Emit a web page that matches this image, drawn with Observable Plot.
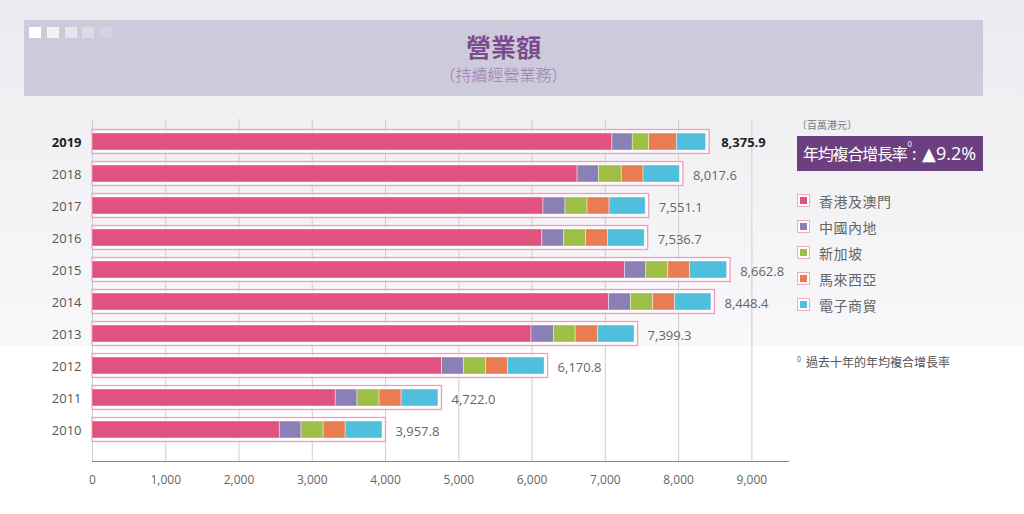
<!DOCTYPE html>
<html><head><meta charset="utf-8">
<script src="https://cdn.jsdelivr.net/npm/d3@7"></script>
<script src="https://cdn.jsdelivr.net/npm/@observablehq/plot@0.6"></script>
<style>
html,body{margin:0;padding:0;}
body{width:1024px;height:514px;overflow:hidden;position:relative;font-family:"Open Sans","Noto Sans CJK TC",sans-serif;
background:linear-gradient(to bottom,#ebeaf0 0px,#f0f0f3 110px,#f8f8fa 345px,#ffffff 346px);}
#header{position:absolute;left:24px;top:20px;width:959px;height:76px;background:#cdcadc;}
.sq{position:absolute;top:7px;width:12px;height:11px;background:#fff;}
#title{position:absolute;left:0;width:100%;top:9px;text-align:center;font-family:"Noto Sans CJK TC",sans-serif;font-weight:700;font-size:25px;color:#7a4a8d;line-height:34px;}
#subtitle{position:absolute;left:0;width:100%;top:43px;text-align:center;font-family:"Noto Sans CJK TC",sans-serif;font-weight:300;font-size:16px;color:#9a7cab;line-height:22px;}
#chart{position:absolute;left:0;top:100px;}
#unit{position:absolute;left:797px;top:117px;font-family:"Noto Sans CJK TC",sans-serif;font-size:10px;color:#777;line-height:16px;}
#rate{position:absolute;left:797px;top:136px;width:186px;height:35px;background:#6c407f;color:#fff;box-sizing:border-box;padding-left:6px;font-family:"Noto Sans CJK TC",sans-serif;font-size:16px;line-height:35px;white-space:nowrap;}
#rate .cj{letter-spacing:-1.2px;}
#rate sup{font-size:8px;vertical-align:top;position:relative;top:-10px;margin-left:1px;}
#rate .num{font-family:"Open Sans","DejaVu Sans",sans-serif;font-size:18px;margin-left:2px;}
#legend{position:absolute;left:797px;top:188px;}
.li{position:relative;height:26px;font-family:"Noto Sans CJK TC",sans-serif;font-size:14px;color:#666;line-height:26px;white-space:nowrap;}
.sw{position:absolute;left:0;top:6px;width:13px;height:13px;box-sizing:border-box;border:1.5px solid #f4a9c6;background:#fff;}
.sw i{position:absolute;left:1.5px;top:1.5px;width:7px;height:7px;}
.li span{position:absolute;left:22px;letter-spacing:0.5px;}
#note{position:absolute;left:797px;top:353px;font-family:"Noto Sans CJK TC",sans-serif;font-size:12px;color:#555;line-height:18px;white-space:nowrap;}
#note sup{font-size:7px;vertical-align:top;position:relative;top:-3px;margin-right:5px;}
</style>
</head><body>
<div id="header">
  <div class="sq" style="left:5px;opacity:1"></div>
  <div class="sq" style="left:23px;opacity:0.75"></div>
  <div class="sq" style="left:41px;opacity:0.5"></div>
  <div class="sq" style="left:58px;opacity:0.3"></div>
  <div class="sq" style="left:76px;opacity:0.15"></div>
  <div id="title">營業額</div>
  <div id="subtitle">（持續經營業務）</div>
</div>
<div id="chart"></div>
<div id="unit">〔百萬港元〕</div>
<div id="rate"><span class="cj">年均複合增長率</span><sup>0</sup>: <span class="num">▲9.2%</span></div>
<div id="legend"></div>
<div id="note"><sup>0</sup>過去十年的年均複合增長率</div>
<script>
const years = ["2019","2018","2017","2016","2015","2014","2013","2012","2011","2010"];
const regions = ["香港及澳門","中國內地","新加坡","馬來西亞","電子商貿"];
const regionColors = ["#e0537f","#8b80b6","#9dbf45","#e97d51","#4fc0dc"];
const hkMacau   = [7096, 6621, 6155, 6140, 7266, 7052, 5992, 4771, 3320, 2556];
const mainland  = [278, 293, 301, 297, 293, 297, 307, 297, 297, 297];
const singapore = [225, 310, 301, 301, 301, 305, 296, 305, 301, 301];
const malaysia  = [378, 297, 301, 296, 296, 297, 307, 297, 301, 301];
const ecommerce = [399, 497, 493, 503, 507, 497, 497, 501, 503, 503];
const totals = [8375.9, 8017.6, 7551.1, 7536.7, 8662.8, 8448.4, 7399.3, 6170.8, 4722.0, 3957.8];
const xTicks = [0,1000,2000,3000,4000,5000,6000,7000,8000,9000];

const series = [hkMacau, mainland, singapore, malaysia, ecommerce];
const segs = [];
years.forEach((y, i) => regions.forEach((r, j) => segs.push({year: y, region: r, value: series[j][i]})));
const tot = years.map((y, i) => ({year: y, total: totals[i]}));
const fmt = d3.format(",.1f");

const chart = Plot.plot({
  width: 800, height: 400,
  marginLeft: 92, marginRight: 12, marginTop: 19, marginBottom: 39,
  style: {fontFamily: "'Open Sans', sans-serif", background: "transparent", overflow: "visible"},
  x: {domain: [0, 9500], axis: null},
  y: {domain: years, range: [22, 349], paddingInner: 0.48, paddingOuter: 0.24, axis: null},
  color: {domain: regions, range: regionColors},
  marks: [
    Plot.gridX(xTicks, {stroke: "#c8c8cc", strokeOpacity: 1, strokeWidth: 0.9}),
    Plot.barX(tot, {x: "total", y: "year", fill: "#fff", fillOpacity: 0.6, stroke: "#f39bc0", strokeWidth: 1.3, insetTop: -3.5, insetBottom: -3.5, insetRight: -3.5}),
    Plot.barX(segs, Plot.stackX({x: "value", y: "year", z: "region", fill: "region", order: regions, stroke: "#fff", strokeOpacity: 0.6, strokeWidth: 0.7})),
    Plot.text(tot.filter(d => d.year !== "2019"), {x: "total", y: "year", text: d => fmt(d.total), dx: 13, dy: 2, textAnchor: "start", fontSize: 13, fill: "#666", style: "letter-spacing:-0.3px"}),
    Plot.text(tot.filter(d => d.year === "2019"), {x: "total", y: "year", text: d => fmt(d.total), dx: 15, dy: 1, textAnchor: "start", fontSize: 13, fontWeight: 700, fill: "#222"}),
    Plot.text(tot.filter(d => d.year !== "2019"), {y: "year", text: "year", frameAnchor: "left", dx: -11, dy: 1, textAnchor: "end", fontSize: 13, fill: "#555"}),
    Plot.text(tot.filter(d => d.year === "2019"), {y: "year", text: "year", frameAnchor: "left", dx: -11, dy: 1, textAnchor: "end", fontSize: 13, fontWeight: 700, fill: "#222"}),
    Plot.frame({anchor: "bottom", stroke: "#888", strokeWidth: 1.2}),
    Plot.axisX({ticks: xTicks, tickSize: 0, tickPadding: 14, tickFormat: d3.format(","), fontSize: 12, fill: "#666", label: null})
  ]
});
document.getElementById("chart").appendChild(chart);

const lg = document.getElementById("legend");
regions.forEach((r, j) => {
  const d = document.createElement("div");
  d.className = "li";
  d.innerHTML = `<div class="sw"><i style="background:${regionColors[j]}"></i></div><span>${r}</span>`;
  lg.appendChild(d);
});
</script>
</body></html>
